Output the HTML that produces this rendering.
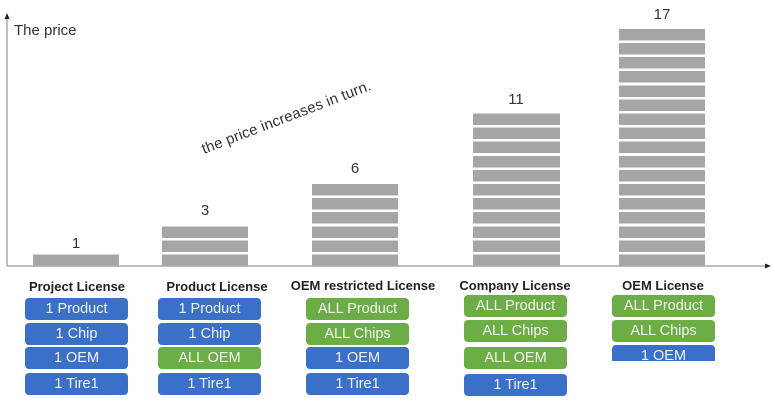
<!DOCTYPE html>
<html><head><meta charset="utf-8"><style>
body{margin:0;width:775px;height:407px;background:#fff;position:relative;overflow:hidden;font-family:"Liberation Sans",sans-serif}
.bar{position:absolute;bottom:141.5px;background:repeating-linear-gradient(to top,#a6a6a6 0,#a6a6a6 11.5px,#fff 11.5px,#fff 14.1px)}
.num{position:absolute;font-size:15px;color:#333;text-align:center;width:86px}
.h{position:absolute;font-size:13px;font-weight:bold;color:#222;text-align:center;width:150px}
.b{position:absolute;width:103px;height:22px;border-radius:4px;color:#f2f2f2;font-size:14.5px;line-height:22px;text-align:center}
.bl{background:#3b70c8}.gr{background:#6cae45}
</style></head><body>
<svg width="775" height="407" style="position:absolute;left:0;top:0">
<line x1="7" y1="18" x2="7" y2="266" stroke="#aaa" stroke-width="1.5"/>
<polygon points="7,13 4.5,19 9.5,19" fill="#222"/>
<line x1="7" y1="266" x2="766" y2="266" stroke="#aaa" stroke-width="1.5"/>
<polygon points="771,266 765,263.5 765,268.5" fill="#222"/>
<text x="14" y="35" font-size="15" fill="#333" font-family="Liberation Sans">The price</text>
<text x="0" y="0" font-size="15" fill="#333" font-family="Liberation Sans" transform="translate(204,154) rotate(-21)" textLength="180">the price increases in turn.</text>
</svg>
<div class="bar" style="left:33px;width:86px;height:11.5px"></div>
<div class="bar" style="left:162px;width:86px;height:39.7px"></div>
<div class="bar" style="left:312px;width:86px;height:82px"></div>
<div class="bar" style="left:473px;width:87px;height:152.5px"></div>
<div class="bar" style="left:619px;width:86px;height:237.1px"></div>
<div class="num" style="left:33px;top:235px">1</div>
<div class="num" style="left:162px;top:202px">3</div>
<div class="num" style="left:312px;top:160px">6</div>
<div class="num" style="left:473px;top:91px">11</div>
<div class="num" style="left:619px;top:6px">17</div>
<div class="h" style="left:2px;top:279px">Project License</div>
<div class="h" style="left:142px;top:279px">Product License</div>
<div class="h" style="left:283px;top:278px;width:160px">OEM restricted License</div>
<div class="h" style="left:440px;top:278px">Company License</div>
<div class="h" style="left:588px;top:278px">OEM License</div>
<div class="b bl" style="left:25px;top:298px">1 Product</div>
<div class="b bl" style="left:25px;top:323px">1 Chip</div>
<div class="b bl" style="left:25px;top:347px">1 OEM</div>
<div class="b bl" style="left:25px;top:373px">1 Tire1</div>
<div class="b bl" style="left:158px;top:298px">1 Product</div>
<div class="b bl" style="left:158px;top:323px">1 Chip</div>
<div class="b gr" style="left:158px;top:347px">ALL OEM</div>
<div class="b bl" style="left:158px;top:373px">1 Tire1</div>
<div class="b gr" style="left:306px;top:298px">ALL Product</div>
<div class="b gr" style="left:306px;top:323px">ALL Chips</div>
<div class="b bl" style="left:306px;top:347px">1 OEM</div>
<div class="b bl" style="left:306px;top:373px">1 Tire1</div>
<div class="b gr" style="left:464px;top:295px">ALL Product</div>
<div class="b gr" style="left:464px;top:320px">ALL Chips</div>
<div class="b gr" style="left:464px;top:347px">ALL OEM</div>
<div class="b bl" style="left:464px;top:374px">1 Tire1</div>
<div class="b gr" style="left:612px;top:295px">ALL Product</div>
<div class="b gr" style="left:612px;top:320px">ALL Chips</div>
<div class="b bl" style="left:612px;top:345px;height:16px;line-height:22px;overflow:hidden;border-radius:4px 4px 0 0">1 OEM</div>
</body></html>
